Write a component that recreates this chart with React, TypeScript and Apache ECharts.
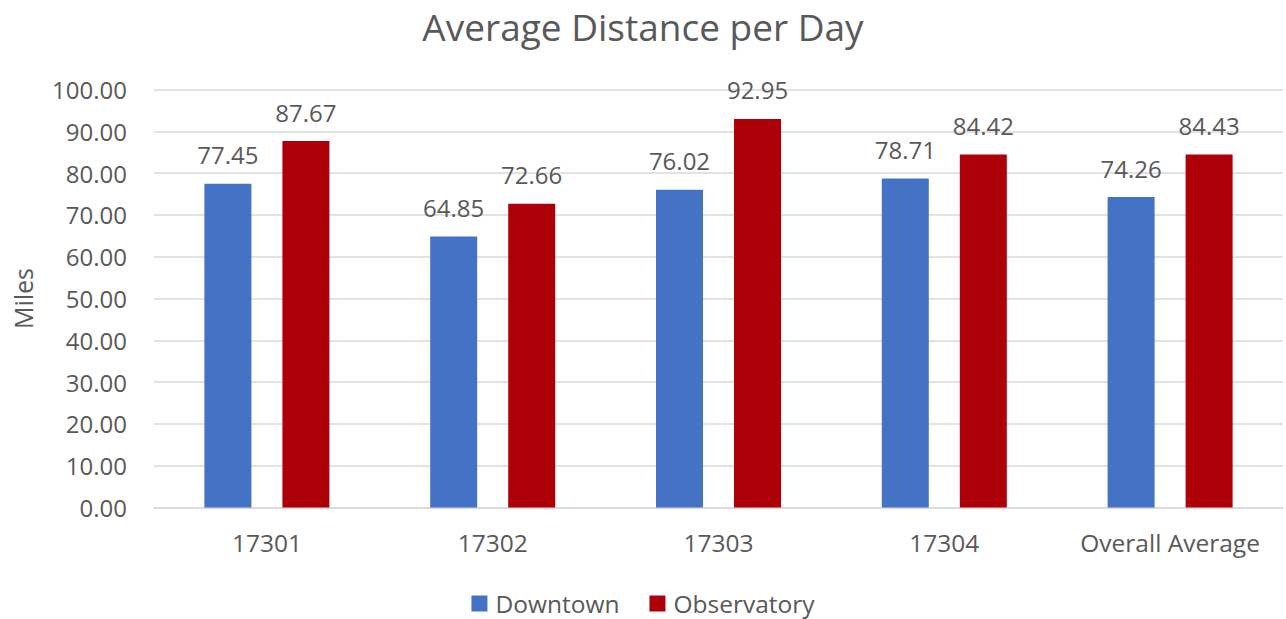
import React, { useEffect, useRef } from "react";
import * as echarts from "echarts";

const categories = ["17301", "17302", "17303", "17304", "Overall Average"];
const downtown = [77.45, 64.85, 76.02, 78.71, 74.26];
const observatory = [87.67, 72.66, 92.95, 84.42, 84.43];
const seriesNames = ["Downtown", "Observatory"];

const FONT = "'Open Sans', sans-serif";
const TXT = "#595959";

export default function App() {
  const ref = useRef<HTMLDivElement>(null);
  useEffect(() => {
    if (!ref.current) return;
    const chart = echarts.init(ref.current, null, { renderer: "svg" });
    const label = {
      show: true,
      position: "top",
      distance: 17,
      color: TXT,
      fontSize: 24,
      fontFamily: FONT,
      formatter: (p: any) => Number(p.value).toFixed(2),
    };
    chart.setOption({
      animation: false,
      textStyle: { fontFamily: FONT },
      title: {
        text: "Average Distance per Day",
        left: "center",
        top: 3,
        textStyle: { color: TXT, fontSize: 37, fontWeight: "normal", fontFamily: FONT },
      },
      legend: {
        data: seriesNames,
        bottom: -2,
        left: "center",
        itemWidth: 16,
        itemHeight: 16,
        itemGap: 30,
        icon: "rect",
        textStyle: { color: TXT, fontSize: 24.5, fontFamily: FONT, padding: [0, 0, 0, 3] },
      },
      grid: { left: 154, right: 3, top: 89.5, bottom: 111.5 },
      xAxis: {
        type: "category",
        data: categories,
        axisTick: { show: false },
        axisLine: { lineStyle: { color: "#D9D9D9", width: 1.5 } },
        axisLabel: { color: TXT, fontSize: 24.5, margin: 22, fontFamily: FONT, interval: 0 },
      },
      yAxis: {
        type: "value",
        min: 0,
        max: 100,
        interval: 10,
        name: "Miles",
        nameLocation: "middle",
        nameGap: 119,
        nameTextStyle: { color: TXT, fontSize: 25, fontFamily: FONT },
        axisLabel: {
          color: TXT,
          fontSize: 24,
          margin: 27,
          fontFamily: FONT,
          formatter: (v: number) => v.toFixed(2),
        },
        splitLine: { lineStyle: { color: "#D9D9D9", width: 1.5 } },
      },
      series: [
        {
          name: seriesNames[0],
          type: "bar",
          data: downtown,
          barWidth: 47,
          barGap: "66%",
          itemStyle: { color: "#4472C4" },
          label,
        },
        {
          name: seriesNames[1],
          type: "bar",
          data: observatory,
          barWidth: 47,
          itemStyle: { color: "#AE0009" },
          label,
        },
      ],
    });
    return () => chart.dispose();
  }, []);
  return <div ref={ref} style={{ width: 1286, height: 619, position: "absolute", left: 0, top: 0 }} />;
}
